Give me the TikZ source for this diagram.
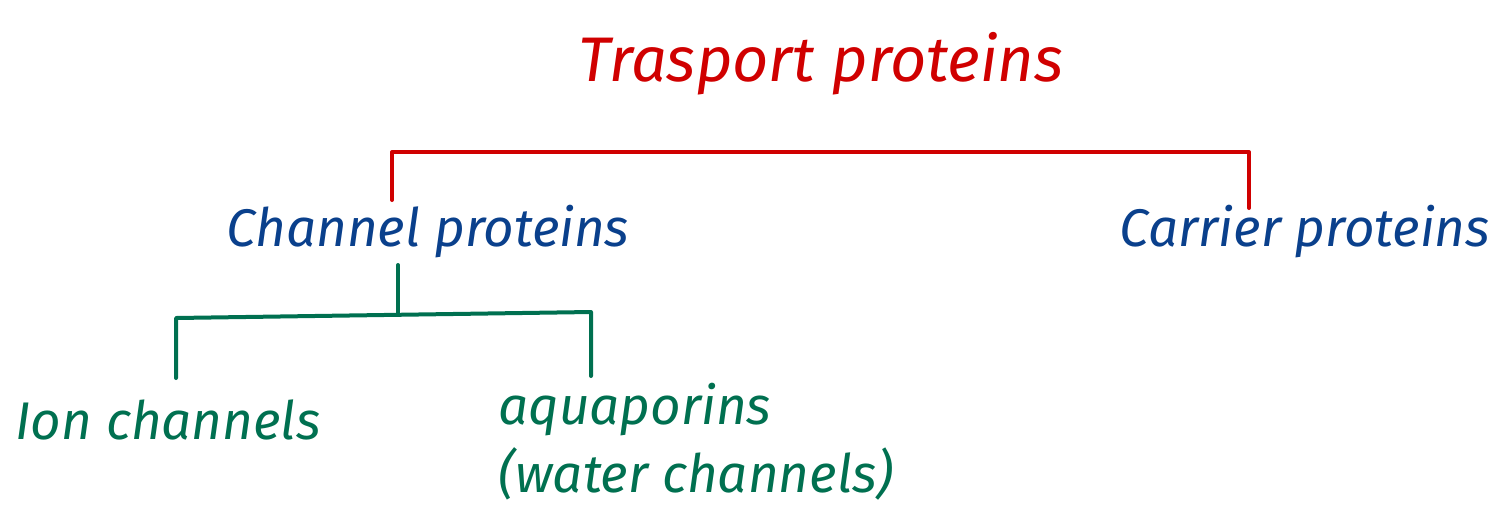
\documentclass[tikz,border=0pt]{standalone}
\usepackage{fontspec}
\setmainfont{Fira Sans}
\definecolor{inkred}{RGB}{208,0,0}
\definecolor{inkblue}{RGB}{10,64,140}
\definecolor{inkgreen}{RGB}{0,112,80}
\begin{document}
\begin{tikzpicture}[x=0.5pt,y=-0.5pt,
  label base/.style={inner sep=0pt, font=\itshape\fontsize{26.5}{34}\selectfont},
  redtxt/.style={label base, text=inkred, font=\itshape\fontsize{31.5}{36}\selectfont},
  bluetxt/.style={label base, text=inkblue},
  greentxt/.style={label base, text=inkgreen},
  redline/.style={draw=inkred, line width=2pt, line cap=round, line join=round},
  greenline/.style={draw=inkgreen, line width=2pt, line cap=round, line join=round}]
\useasboundingbox (0,0) rectangle (1504,515);

% labels
\node[redtxt] (tp) at (821,64) {Trasport proteins};
\node[bluetxt] (cp) at (428,232) {Channel proteins};
\node[bluetxt] (crp) at (1305,232) {Carrier proteins};
\node[greentxt] (ion) at (168,420) {Ion channels};
\node[greentxt, align=left, anchor=west] (aq) at (498,442) {aquaporins\\(water channels)};

% bracket joining the two kinds of transport proteins
\coordinate (cpTop) at (392,200);
\coordinate (barL) at (392,152);
\coordinate (barR) at (1249,152);
\coordinate (crpTop) at (1249,208);
\draw[redline] (cpTop) -- (barL) -- (barR) -- (crpTop);

% bracket joining the two kinds of channel proteins
\coordinate (cpBot) at (398,265);
\coordinate (gMid) at (398,313);
\coordinate (gL) at (176,318);
\coordinate (gR) at (591,312);
\coordinate (ionTop) at (176,378);
\coordinate (aqTop) at (591,376);
\draw[greenline] (cpBot) -- (gMid);
\draw[greenline] (ionTop) -- (gL) -- (gR) -- (aqTop);
\end{tikzpicture}
\end{document}
